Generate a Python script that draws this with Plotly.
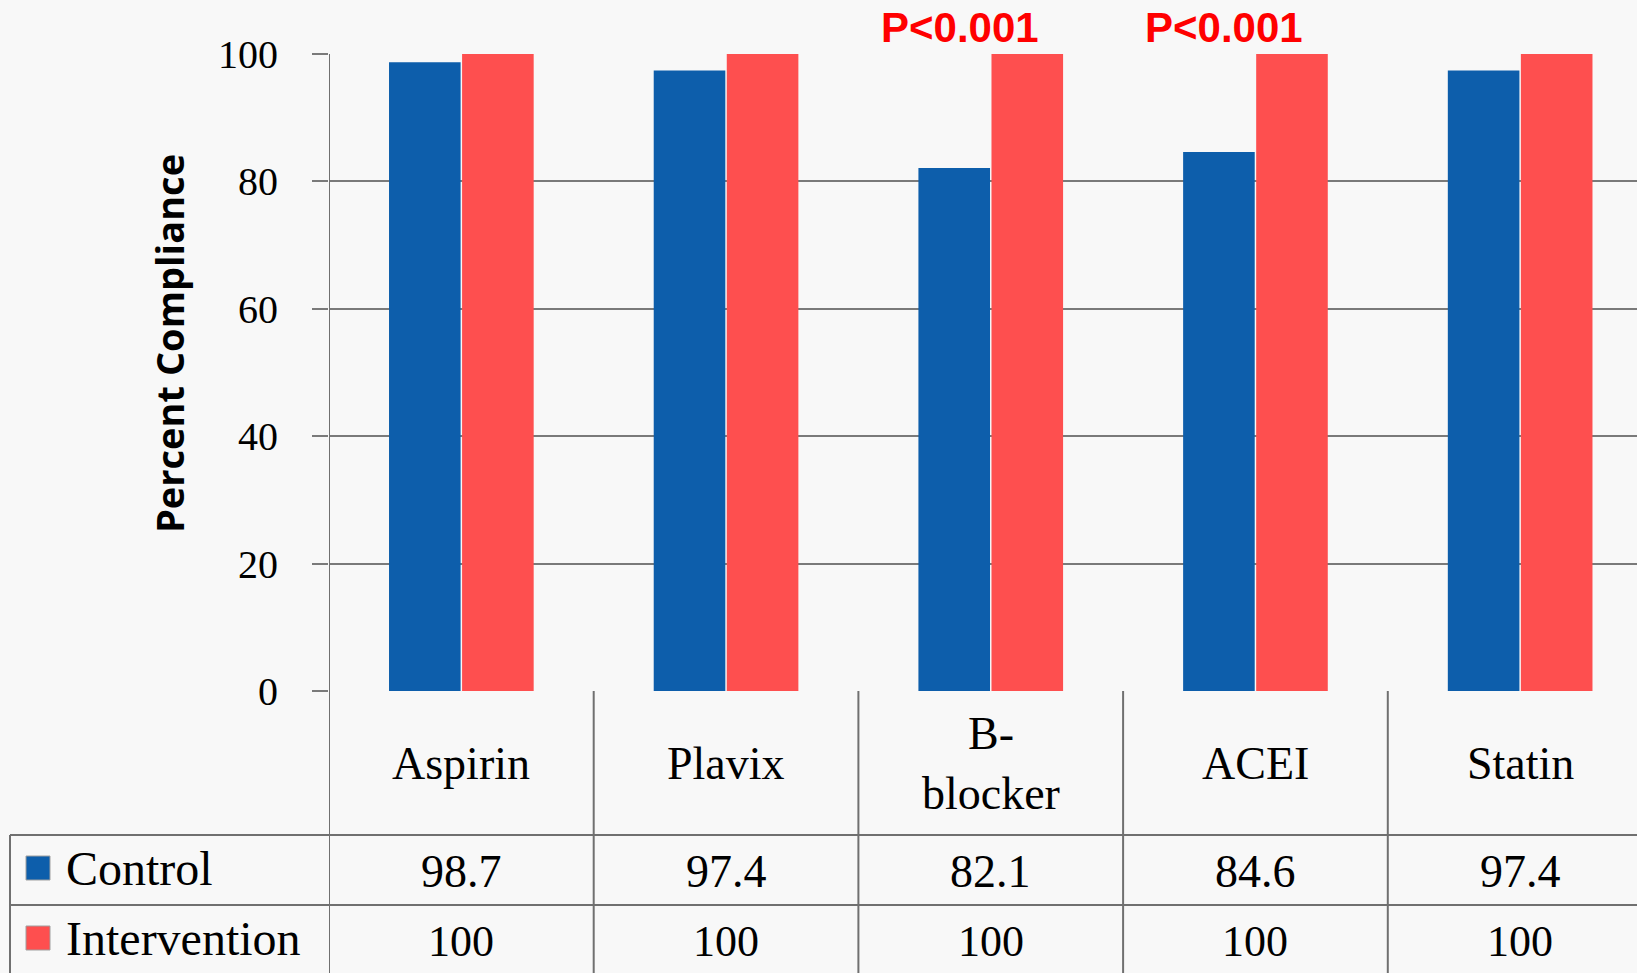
import plotly.graph_objects as go

categories = ["Aspirin", "Plavix", "B-<br>blocker", "ACEI", "Statin"]
series_names = ["Control", "Intervention"]
control = [98.7, 97.4, 82.1, 84.6, 97.4]
intervention = [100, 100, 100, 100, 100]
control_labels = ["98.7", "97.4", "82.1", "84.6", "97.4"]
intervention_labels = ["100", "100", "100", "100", "100"]
p_labels = ["", "", "P<0.001", "P<0.001", ""]
y_ticks = [0, 20, 40, 60, 80, 100]

colors = ["#0D5EAB", "#FE4F4F"]
BG = "#F8F8F8"
LINE = "#707070"
SERIF = "Liberation Serif, DejaVu Serif, serif"

W, H = 1637, 973
ML, MR, MT = 329, 0, 54
MB = H - 691
PW = W - ML - MR
PH = H - MT - MB
CAT_PX = 264.7
x_range = [-0.5, -0.5 + PW / CAT_PX]

def py(Y):
    return (691 - Y) / PH

def px(X):
    return (X - ML) / PW

idx = list(range(len(categories)))

fig = go.Figure()
fig.add_trace(go.Bar(x=idx, y=control, name=series_names[0],
                     marker=dict(color=colors[0], line=dict(width=0))))
fig.add_trace(go.Bar(x=idx, y=intervention, name=series_names[1],
                     marker=dict(color=colors[1], line=dict(width=0))))

shapes = []
for i in idx:
    shapes.append(dict(type="line", xref="x", yref="paper", x0=i - 0.5, x1=i - 0.5,
                       y0=0 if i else 1, y1=py(H + 5), line=dict(color=LINE, width=2)))
for Y in (835, 905):
    shapes.append(dict(type="line", xref="paper", yref="paper", x0=px(10), x1=1,
                       y0=py(Y), y1=py(Y), line=dict(color=LINE, width=2)))
shapes.append(dict(type="line", xref="paper", yref="paper", x0=px(10), x1=px(10),
                   y0=py(835), y1=py(H + 5), line=dict(color=LINE, width=2)))
for k, Yc in enumerate((868, 938)):
    shapes.append(dict(type="rect", xref="paper", yref="paper",
                       x0=px(26), x1=px(50), y0=py(Yc - 12), y1=py(Yc + 12),
                       fillcolor=colors[k], line=dict(color="#A0A0A0", width=1)))

annotations = []
for i, c in enumerate(categories):
    annotations.append(dict(x=i, y=py(763), xref="x", yref="paper", text=c,
                            showarrow=False, xanchor="center", yanchor="middle",
                            font=dict(family=SERIF, size=46, color="black")))
    annotations.append(dict(x=i, y=py(871), xref="x", yref="paper", text=control_labels[i],
                            showarrow=False, xanchor="center", yanchor="middle",
                            font=dict(family=SERIF, size=46, color="black")))
    annotations.append(dict(x=i, y=py(941), xref="x", yref="paper", text=intervention_labels[i],
                            showarrow=False, xanchor="center", yanchor="middle",
                            font=dict(family=SERIF, size=44, color="black")))
    if p_labels[i]:
        annotations.append(dict(x=i, y=1, xref="x", yref="paper", text="<b>" + p_labels[i] + "</b>",
                                showarrow=False, xanchor="center", yanchor="middle",
                                xshift=-31, yshift=27,
                                font=dict(family="Liberation Sans, Arial", size=42, color="#FF0000")))
for name, Yc in zip(series_names, (868, 938)):
    annotations.append(dict(x=px(64), y=py(Yc), xref="paper", yref="paper", text=name,
                            showarrow=False, xanchor="left", yanchor="middle",
                            font=dict(family=SERIF, size=48, color="black")))
annotations.append(dict(x=px(169), y=py(344), xref="paper", yref="paper",
                        text="<b>Percent Compliance</b>", textangle=-90, showarrow=False,
                        xanchor="center", yanchor="middle",
                        font=dict(family="Open Sans, sans-serif", size=38, color="black")))

fig.update_layout(
    width=W, height=H,
    margin=dict(l=ML, r=MR, t=MT, b=MB, pad=0),
    paper_bgcolor=BG, plot_bgcolor=BG,
    barmode="group", bargap=0.448, bargroupgap=0.02,
    showlegend=False,
    shapes=shapes, annotations=annotations,
    xaxis=dict(range=x_range, showticklabels=False, showgrid=False, zeroline=False,
               showline=False, ticks=""),
    yaxis=dict(range=[0, 100], tickvals=y_ticks, ticktext=[str(v) for v in y_ticks],
               showgrid=True, gridcolor="#7A7A7A", gridwidth=2, zeroline=False,
               showline=False, ticks="outside", ticklen=16, tickcolor="#7A7A7A", tickwidth=2,
               ticklabelstandoff=26,
               tickfont=dict(family=SERIF, size=40, color="black")),
)

fig.write_html("out.html",
               config={"displayModeBar": False},
               post_script="document.body.style.margin='0';document.body.style.overflow='hidden';"
                           "document.body.style.background='" + BG + "';")
